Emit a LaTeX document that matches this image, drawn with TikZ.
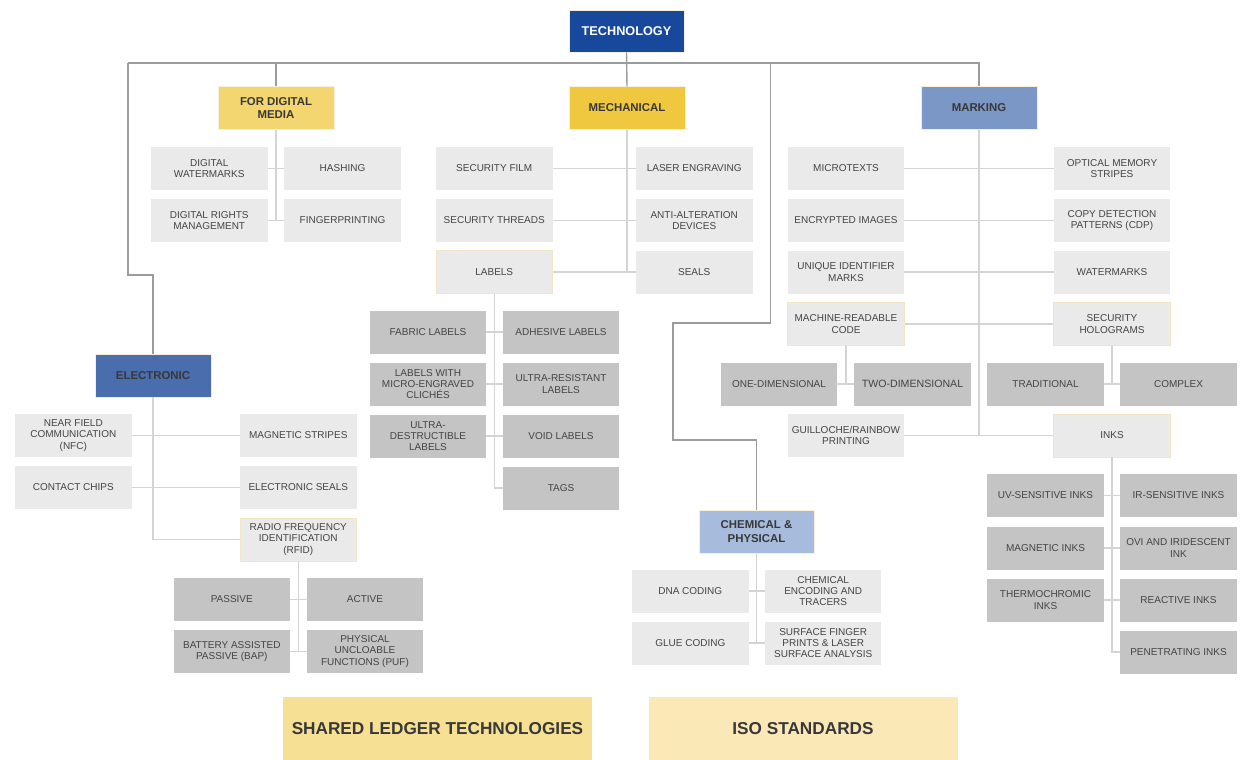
\documentclass[tikz,border=0pt]{standalone}
\usepackage{fontspec}
\setmainfont{Liberation Sans}
\definecolor{techblue}{HTML}{17489C}
\definecolor{elecblue}{HTML}{4A6DAE}
\definecolor{markblue}{HTML}{7A97C6}
\definecolor{chemblue}{HTML}{A7BBDC}
\definecolor{fdmyel}{HTML}{F3D66F}
\definecolor{mechyel}{HTML}{F0C840}
\definecolor{sharedyel}{HTML}{F6E094}
\definecolor{isoyel}{HTML}{FAE9B7}
\definecolor{lightg}{HTML}{EAEAEA}
\definecolor{darkg}{HTML}{C4C4C4}
\definecolor{beige}{HTML}{F2E6C6}
\definecolor{txt}{HTML}{444444}
\definecolor{hdrtxt}{HTML}{383838}
\definecolor{linedark}{HTML}{9C9C9C}
\definecolor{linelight}{HTML}{D4D4D4}
\tikzset{
 conn/.style={draw=linedark, line width=1.4pt},
 sub/.style={draw=linelight, line width=1.1pt},
 box/.style={minimum width=116.5pt, minimum height=43pt, inner sep=1pt, align=center,
   font=\fontsize{10}{11.2}\selectfont, text=txt},
 lg/.style={box, fill=lightg},
 dg/.style={box, fill=darkg},
 lgb/.style={lg, draw=beige, line width=0.7pt},
 hdr/.style={minimum width=116pt, minimum height=42.5pt, inner sep=1pt, align=center,
   font=\bfseries\fontsize{11.4}{13.5}\selectfont, text=hdrtxt, draw=beige!60!white, line width=0.6pt},
 big/.style={minimum width=309pt, minimum height=63pt, inner sep=1pt, align=center,
   font=\bfseries\fontsize{17.2}{19}\selectfont, text=hdrtxt},
}
\begin{document}
\begin{tikzpicture}[x=1pt,y=-1pt]
\useasboundingbox[fill=white] (0,0) rectangle (1243,760);

% headers
\node[hdr, fill=techblue, text=white, minimum width=115pt, minimum height=42pt, font=\bfseries\fontsize{12.7}{15}\selectfont] (tech) at (626.5,31) {TECHNOLOGY};
\node[hdr, fill=fdmyel] (fdm) at (276,108) {FOR DIGITAL\\MEDIA};
\node[hdr, fill=mechyel] (mech) at (627,108) {MECHANICAL};
\node[hdr, fill=markblue] (mark) at (979,108) {MARKING};
\node[hdr, fill=elecblue, minimum height=43pt] (elec) at (153,375.5) {ELECTRONIC};
\node[hdr, fill=chemblue, minimum width=115pt, minimum height=43pt] (chem) at (756.5,531.5) {CHEMICAL \&\\PHYSICAL};

% digital media
\node[lg] (dw) at (209.25,168.5) {DIGITAL\\WATERMARKS};
\node[lg] (hash) at (342.5,168.5) {HASHING};
\node[lg] (drm) at (209.25,220.5) {DIGITAL RIGHTS\\MANAGEMENT};
\node[lg] (fp) at (342.5,220.5) {FINGERPRINTING};

% mechanical
\node[lg] (sfilm) at (494.25,168.5) {SECURITY FILM};
\node[lg] (sthreads) at (494.25,220.5) {SECURITY THREADS};
\node[lgb] (labels) at (494.25,272) {LABELS};
\node[lg] (laser) at (694.25,168.5) {LASER ENGRAVING};
\node[lg] (anti) at (694.25,220.5) {ANTI-ALTERATION\\DEVICES};
\node[lg] (seals) at (694.25,272) {SEALS};
\node[dg] (fabric) at (428,332) {FABRIC LABELS};
\node[dg] (adhesive) at (561,332) {ADHESIVE LABELS};
\node[dg] (micro) at (428,384) {LABELS WITH\\MICRO-ENGRAVED\\CLICHÉS};
\node[dg] (ultrares) at (561,384) {ULTRA-RESISTANT\\LABELS};
\node[dg] (ultradest) at (428,436) {ULTRA-\\DESTRUCTIBLE\\LABELS};
\node[dg] (void) at (561,436) {VOID LABELS};
\node[dg] (tags) at (561,488) {TAGS};

% marking
\node[lg] (microtexts) at (846,168.5) {MICROTEXTS};
\node[lg] (optical) at (1112,168.5) {OPTICAL MEMORY\\STRIPES};
\node[lg] (encrypted) at (846,220.5) {ENCRYPTED IMAGES};
\node[lg] (cdp) at (1112,220.5) {COPY DETECTION\\PATTERNS (CDP)};
\node[lg] (uim) at (846,272) {UNIQUE IDENTIFIER\\MARKS};
\node[lg] (wm) at (1112,272) {WATERMARKS};
\node[lgb] (mrc) at (846,324) {MACHINE-READABLE\\CODE};
\node[lgb] (sholo) at (1112,324) {SECURITY\\HOLOGRAMS};
\node[dg] (oned) at (779,384) {ONE-DIMENSIONAL};
\node[dg, font=\fontsize{10.6}{12}\selectfont] (twod) at (912.5,384) {TWO-DIMENSIONAL};
\node[dg] (trad) at (1045.5,384) {TRADITIONAL};
\node[dg] (complex) at (1178.5,384) {COMPLEX};
\node[lg] (guill) at (846,435.5) {GUILLOCHE/RAINBOW\\PRINTING};
\node[lgb] (inks) at (1112,435.5) {INKS};
\node[dg] (uv) at (1045.5,495.5) {UV-SENSITIVE INKS};
\node[dg] (ir) at (1178.5,495.5) {IR-SENSITIVE INKS};
\node[dg] (magi) at (1045.5,548) {MAGNETIC INKS};
\node[dg] (ovi) at (1178.5,548) {OVI AND IRIDESCENT\\INK};
\node[dg] (thermo) at (1045.5,600) {THERMOCHROMIC\\INKS};
\node[dg] (reactive) at (1178.5,600) {REACTIVE INKS};
\node[dg] (penetr) at (1178.5,652) {PENETRATING INKS};

% electronic
\node[lg] (nfc) at (73.3,435.5) {NEAR FIELD\\COMMUNICATION\\(NFC)};
\node[lg] (ms) at (298.3,435.5) {MAGNETIC STRIPES};
\node[lg] (cc) at (73.3,487.5) {CONTACT CHIPS};
\node[lg] (es) at (298.3,487.5) {ELECTRONIC SEALS};
\node[lgb] (rfid) at (298.3,539.5) {RADIO FREQUENCY\\IDENTIFICATION\\(RFID)};
\node[dg] (passive) at (231.8,599.5) {PASSIVE};
\node[dg] (active) at (365,599.5) {ACTIVE};
\node[dg] (bap) at (231.8,651.5) {BATTERY ASSISTED\\PASSIVE (BAP)};
\node[dg] (puf) at (365,651.5) {PHYSICAL\\UNCLOABLE\\FUNCTIONS (PUF)};

% chemical
\node[lg] (dna) at (690.3,591) {DNA CODING};
\node[lg] (cet) at (823.2,591) {CHEMICAL\\ENCODING AND\\TRACERS};
\node[lg] (glue) at (690.3,643) {GLUE CODING};
\node[lg] (sfp) at (823.2,643) {SURFACE FINGER\\PRINTS \& LASER\\SURFACE ANALYSIS};

% bottom
\node[big, fill=sharedyel] (shared) at (437.5,728.5) {SHARED LEDGER TECHNOLOGIES};
\node[big, fill=isoyel] (iso) at (803,728.5) {ISO STANDARDS};

% main connectors
\coordinate (busL) at (128,63);
\coordinate (busR) at (979,63);
\coordinate (lk) at (128,275);
\coordinate (c1) at (770.5,63);
\coordinate (c2) at (770.5,323);
\coordinate (c3) at (673,323);
\coordinate (c4) at (673,440);
\draw[conn] (busL) -- (busR) -- (mark.north);
\draw[conn] (tech.south) -- (mech.north);
\draw[conn] (fdm.north |- busL) -- (fdm.north);
\draw[conn] (busL) -- (lk) -| (elec.north);
\draw[conn] (c1) -- (c2) -- (c3) -- (c4) -| (chem.north);

% sub connectors
\draw[sub] (fdm.south) -- (fdm.south |- fp.west);
\draw[sub] (dw.east) -- (hash.west);
\draw[sub] (drm.east) -- (fp.west);

\draw[sub] (mech.south) -- (mech.south |- seals.west);
\draw[sub] (sfilm.east) -- (laser.west);
\draw[sub] (sthreads.east) -- (anti.west);
\draw[sub] (labels.east) -- (seals.west);
\draw[sub] (labels.south) |- (tags.west);
\draw[sub] (fabric.east) -- (adhesive.west);
\draw[sub] (micro.east) -- (ultrares.west);
\draw[sub] (ultradest.east) -- (void.west);

\draw[sub] (mark.south) -- (mark.south |- guill.east);
\draw[sub] (microtexts.east) -- (optical.west);
\draw[sub] (encrypted.east) -- (cdp.west);
\draw[sub] (uim.east) -- (wm.west);
\draw[sub] (mrc.east) -- (sholo.west);
\draw[sub] (guill.east) -- (inks.west);
\draw[sub] (mrc.south) -- (mrc.south |- twod.west);
\draw[sub] (oned.east) -- (twod.west);
\draw[sub] (sholo.south) -- (sholo.south |- complex.west);
\draw[sub] (trad.east) -- (complex.west);
\draw[sub] (inks.south) |- (penetr.west);
\draw[sub] (uv.east) -- (ir.west);
\draw[sub] (magi.east) -- (ovi.west);
\draw[sub] (thermo.east) -- (reactive.west);

\draw[sub] (elec.south) |- (rfid.west);
\draw[sub] (nfc.east) -- (ms.west);
\draw[sub] (cc.east) -- (es.west);
\draw[sub] (rfid.south) -- (rfid.south |- puf.west);
\draw[sub] (passive.east) -- (active.west);
\draw[sub] (bap.east) -- (puf.west);

\draw[sub] (chem.south) -- (chem.south |- sfp.west);
\draw[sub] (dna.east) -- (cet.west);
\draw[sub] (glue.east) -- (sfp.west);
\end{tikzpicture}
\end{document}
